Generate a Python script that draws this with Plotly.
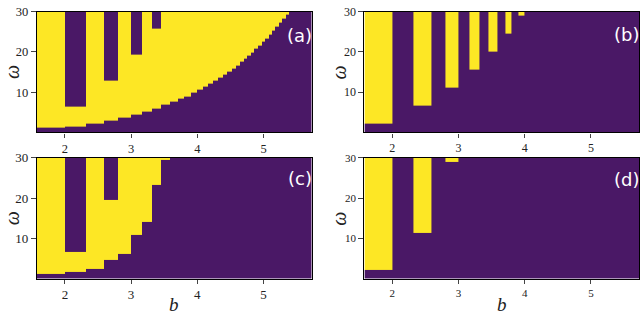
import numpy as np
import plotly.graph_objects as go

# Shared column edges in b (tongue boundaries)
b_edges = [1.578, 2.0, 2.317, 2.587, 2.8, 3.0, 3.163, 3.32, 3.455, 3.585, 3.703,
           3.805, 3.905, 4.0, 4.08, 4.155, 4.23, 4.305, 4.38, 4.455, 4.52, 4.58,
           4.64, 4.70, 4.755, 4.81, 4.86, 4.915, 4.97, 5.02, 5.075, 5.125, 5.18,
           5.23, 5.285, 5.34, 5.39, 5.725]

# Yellow (value 1) interval per column: from lo to hi in omega
lo_a = [1.3, 1.55, 2.2, 2.85, 3.65, 4.4, 5.1, 5.95, 6.8, 7.6, 8.3, 9.0, 9.9, 10.6,
        11.3, 12.1, 12.9, 13.6, 14.4, 15.2, 15.9, 16.7, 17.5, 18.3, 19.1, 19.9,
        20.8, 21.6, 22.5, 23.4, 24.4, 25.3, 26.3, 27.2, 28.2, 29.2, 30]
hi_a = [30, 6.5, 30, 12.9, 30, 19.4, 30, 25.9] + [30] * 29

lo_b = [2.26, 30, 6.6, 30, 11.2, 30, 15.5, 30, 20.0, 30, 24.5, 30, 29.0] + [30] * 24
hi_b = [30] * 37

lo_c = [1.07, 1.7, 2.5, 4.6, 6.25, 10.8, 14.0, 23.2, 29.4] + [30] * 28
hi_c = [30, 6.55, 30, 19.5] + [30] * 33

lo_d = [2.28, 30, 11.3, 30, 29.1] + [30] * 32
hi_d = [30] * 37

omega_min, omega_max = 0, 30
x_ticks = [2, 3, 4, 5]
y_ticks = [10, 20, 30]

W, H = 640, 317
PURPLE = "#4a1866"
YELLOW = "#fde725"


def build(lo, hi):
    ys = sorted(set([omega_min, omega_max] + [v for v in lo + hi if omega_min < v < omega_max]))
    centers = [(ys[i] + ys[i + 1]) / 2 for i in range(len(ys) - 1)]
    z = [[1 if (l <= c <= h) else 0 for l, h in zip(lo, hi)] for c in centers]
    return ys, z


panels = [
    ("(a)", lo_a, hi_a, (37, 312), (4.7, 128.3), 12.5, 24),
    ("(b)", lo_b, hi_b, (365, 640), (4.7, 128.3), 12, 23.5),
    ("(c)", lo_c, hi_c, (37, 312), (154.3, 277.7), 13, 21),
    ("(d)", lo_d, hi_d, (365, 640), (154.3, 277.7), 11, 22.5),
]

fig = go.Figure()
annotations = []
for k, (lab, lo, hi, (x0, x1), (y0, y1), fs, ldy) in enumerate(panels):
    idx = "" if k == 0 else str(k + 1)
    ys, z = build(lo, hi)
    fig.add_trace(go.Heatmap(
        x=b_edges, y=ys, z=z, zmin=0, zmax=1, showscale=False,
        colorscale=[[0, PURPLE], [0.5, PURPLE], [0.5, YELLOW], [1, YELLOW]],
        xaxis="x" + idx, yaxis="y" + idx, hoverinfo="skip"))
    fig.layout["xaxis" + idx] = dict(
        domain=[x0 / W, min(x1 / W, 1.0)], range=[b_edges[0], b_edges[-1]],
        anchor="y" + idx, tickvals=x_ticks, ticks="outside", ticklen=4, tickwidth=1.2,
        showline=True, linecolor="black", linewidth=1.3, mirror=True,
        showgrid=False, zeroline=False,
        tickfont=dict(family="Liberation Serif", size=fs, color="#222"))
    fig.layout["yaxis" + idx] = dict(
        domain=[1 - y1 / H, 1 - y0 / H], range=[omega_min, omega_max],
        anchor="x" + idx, tickvals=y_ticks, ticks="outside", ticklen=5, tickwidth=1.2,
        showline=True, linecolor="black", linewidth=1.3, mirror=True,
        showgrid=False, zeroline=False,
        tickfont=dict(family="Liberation Serif", size=fs, color="#222"))
    # panel label
    annotations.append(dict(
        text=lab, x=(x1 + 2) / W, y=1 - (y0 + ldy) / H, xref="paper", yref="paper",
        xanchor="right", yanchor="middle", showarrow=False,
        font=dict(family="DejaVu Sans", size=18, color="white")))
    # y label
    annotations.append(dict(
        text="<i>ω</i>", x=(x0 - 25) / W, y=1 - ((y0 + y1) / 2) / H,
        xref="paper", yref="paper", xanchor="center", yanchor="middle",
        textangle=-90, showarrow=False,
        font=dict(family="Liberation Serif", size=20, color="#222")))
    if k >= 2:
        annotations.append(dict(
            text="<i>b</i>", x=((x0 + x1) / 2) / W, y=1 - 304 / H,
            xref="paper", yref="paper", xanchor="center", yanchor="middle",
            showarrow=False,
            font=dict(family="Liberation Serif", size=19, color="#222")))

fig.update_layout(
    width=W, height=H, margin=dict(l=0, r=0, t=0, b=0),
    paper_bgcolor="white", plot_bgcolor="white",
    annotations=annotations, showlegend=False)

fig.write_html(
    "out.html",
    config={"displayModeBar": False},
    post_script="document.body.style.margin='0';document.body.style.overflow='hidden';")
